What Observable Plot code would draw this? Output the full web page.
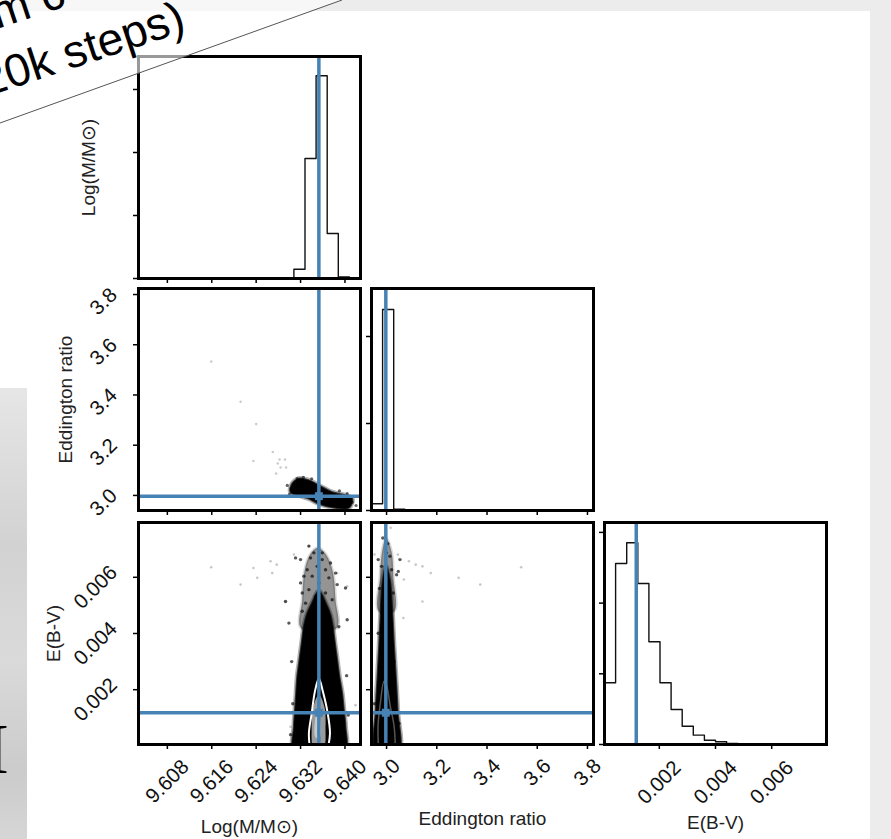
<!DOCTYPE html>
<html><head><meta charset="utf-8">
<script src="https://cdn.jsdelivr.net/npm/d3@7"></script>
<script src="https://cdn.jsdelivr.net/npm/@observablehq/plot@0.6"></script>
<style>
body{margin:0;background:#ececec}
#root{position:relative;width:891px;height:839px;overflow:hidden;background:#ececec}
#root > svg{position:absolute}
#white{position:absolute;left:0;top:11px;width:870px;height:828px;background:#fff}
#leftstrip{position:absolute;left:0;top:388px;width:27px;height:451px;background:linear-gradient(to bottom,#e6e6e6,#d2d2d2 35%,#dadada 60%,#cbcbcb 85%,#d6d6d6)}
[aria-label="x-axis tick"],[aria-label="y-axis tick"]{stroke-width:1.5px}
[aria-label="x-axis"] line,[aria-label="y-axis"] line{stroke-width:1.5px}
</style></head>
<body>
<div id="root"><div id="white"></div><div id="leftstrip"></div></div>
<script>
// ---------- data ----------
const labels = ["Log(M/M⊙)", "Eddington ratio", "E(B-V)"];
const logMTicks = [9.608, 9.616, 9.624, 9.632, 9.640];
const eddTicks = [3.0, 3.2, 3.4, 3.6, 3.8];
const ebvTicks = [0.002, 0.004, 0.006];
const truths = [9.6353, 2.997, 0.00118];
const logMDomain = [9.6028, 9.6428];
const eddDomain = [2.94, 3.824];
const ebvDomain = [0.00005, 0.00795];

const logMEdges = [9.6028, 9.6048, 9.6068, 9.6088, 9.6108, 9.6128, 9.6148, 9.6168, 9.6188, 9.6208, 9.6228,
  9.6248, 9.6268, 9.6288, 9.6308, 9.6328, 9.6348, 9.6368, 9.6388, 9.6408, 9.6428];
const logMCounts = [0, 0, 0, 0, 0, 0, 0, 0, 0, 0, 0, 0, 0, 0, 443, 5714, 9652, 2143, 79, 0];
const logMCountTicks = [0, 3000, 6000, 9000];
const logMCountMax = 10571;

const eddEdges = [2.94, 2.9842, 3.0284, 3.0726, 3.1168, 3.161, 3.2052, 3.2494, 3.2936, 3.3378, 3.382,
  3.4262, 3.4704, 3.5146, 3.5588, 3.603, 3.6472, 3.6914, 3.7356, 3.7798, 3.824];
const eddCounts = [770, 23100, 150, 0, 0, 0, 0, 0, 0, 0, 0, 0, 0, 0, 0, 0, 0, 0, 0, 0];
const eddCountTicks = [0, 10000, 20000];
const eddCountMax = 25517;

const ebvEdges = [0.00005, 0.000445, 0.00084, 0.001235, 0.00163, 0.002025, 0.00242, 0.002815, 0.00321,
  0.003605, 0.004, 0.004395, 0.00479, 0.005185, 0.00558, 0.005975, 0.00637, 0.006765, 0.00716, 0.007555, 0.00795];
const ebvCounts = [873, 2560, 2853, 2277, 1453, 873, 495, 259, 132, 61, 38, 14, 7, 5, 3, 0, 3, 3, 0, 0];
const ebvCountTicks = [0, 1000, 2000, 3000];
const ebvCountMax = 3140;

// Eddington ratio vs Log(M)
const eddVsLogMCloud = [[9.6305, 3.047], [9.6317, 3.067], [9.6335, 3.060], [9.6353, 3.040], [9.6377, 3.013],
  [9.6401, 3.000], [9.6413, 2.987], [9.6407, 2.951], [9.6377, 2.953], [9.6353, 2.967], [9.6335, 2.987],
  [9.6317, 3.000], [9.6302, 3.013]];
const eddVsLogMEdgeDots = [[9.6314, 3.067], [9.6320, 3.060], [9.6404, 3.007], [9.6413, 2.973], [9.6303, 3.027],
  [9.6308, 3.033], [9.6325, 3.072], [9.6296, 3.040], [9.6340, 3.066], [9.6390, 3.018], [9.6420, 2.960], [9.6300, 3.004]];
const eddVsLogMOutliers = [[9.6159, 3.533], [9.6212, 3.373], [9.6240, 3.284], [9.6270, 3.173], [9.6235, 3.137],
  [9.6282, 3.143], [9.6279, 3.127], [9.6292, 3.143], [9.6276, 3.087], [9.6294, 3.111], [9.6284, 3.111]];

// E(B-V) vs Log(M)
const ebvVsLogMCloud = [[9.6353, 0.00550], [9.6366, 0.00505], [9.6374, 0.00465], [9.6378, 0.00425], [9.6382, 0.00365],
  [9.6386, 0.00306], [9.6390, 0.00246], [9.6395, 0.00187], [9.6398, 0.00128], [9.6401, 0.00068], [9.6399, -0.0002],
  [9.6309, -0.0002], [9.6308, 0.00068], [9.6310, 0.00128], [9.6312, 0.00187], [9.6314, 0.00246], [9.6318, 0.00306],
  [9.6322, 0.00365], [9.6326, 0.00425], [9.6331, 0.00465], [9.6340, 0.00505]];
const ebvVsLogMHaze = [[9.6351, 0.00705], [9.6366, 0.00680], [9.6378, 0.00620], [9.6383, 0.00520], [9.6385, 0.00420],
  [9.6321, 0.00420], [9.6323, 0.00520], [9.6327, 0.00620], [9.6337, 0.00680]];
const ebvVsLogMContour = [[9.6337, -0.0001], [9.6335, 0.00044], [9.6340, 0.00115], [9.6346, 0.00195], [9.6353, 0.00240],
  [9.6360, 0.00195], [9.6369, 0.00115], [9.6373, 0.00044], [9.6369, -0.0001]];
const ebvVsLogMCore = [[9.6353, 0.00182], [9.6363, 0.00139], [9.6365, 0.00068], [9.6361, -0.0001], [9.6344, -0.0001],
  [9.6340, 0.00068], [9.6343, 0.00139]];
const ebvVsLogMCenter = [[9.6351, 0.00135], [9.6356, 0.00090], [9.6355, 0.00030], [9.6347, 0.00030], [9.6346, 0.00090]];
const ebvVsLogMSparse = [[9.6335, 0.00711], [9.6338, 0.00669], [9.6332, 0.00627], [9.6326, 0.00604], [9.6341, 0.00604],
  [9.6350, 0.00639], [9.6359, 0.00663], [9.6365, 0.00627], [9.6371, 0.00598], [9.6383, 0.00615], [9.6353, 0.00580],
  [9.6335, 0.00556], [9.6323, 0.00544], [9.6347, 0.00532], [9.6365, 0.00544], [9.6377, 0.00520], [9.6329, 0.00508],
  [9.6320, 0.00663], [9.6311, 0.00669], [9.6344, 0.00687], [9.6359, 0.00687], [9.6374, 0.00651], [9.6386, 0.00574],
  [9.6401, 0.00562], [9.6293, 0.00514], [9.6299, 0.00437], [9.6389, 0.00424], [9.6404, 0.00449], [9.6323, 0.00479],
  [9.6320, 0.00580], [9.6304, 0.00300], [9.6403, 0.00250], [9.6306, 0.00150], [9.6406, 0.00110], [9.6302, 0.00040]];
const ebvVsLogMOutliers = [[9.6159, 0.00636], [9.6212, 0.00574], [9.6235, 0.00633], [9.6242, 0.00598], [9.6266, 0.00657],
  [9.6277, 0.00645], [9.6269, 0.00615], [9.6292, 0.00514], [9.6308, 0.00681], [9.6335, 0.00711], [9.6386, 0.00615],
  [9.6404, 0.00568], [9.6419, 0.00145], [9.6302, 0.00068]];

// E(B-V) vs Eddington ratio
const ebvVsEddCloud = [[2.998, 0.00640], [3.014, 0.00585], [3.020, 0.00520], [3.024, 0.00460], [3.029, 0.00365],
  [3.037, 0.00246], [3.044, 0.00127], [3.047, -0.0002], [2.958, -0.0002], [2.957, 0.00127], [2.964, 0.00246],
  [2.971, 0.00365], [2.976, 0.00460], [2.980, 0.00540], [2.986, 0.00595]];
const ebvVsEddHaze = [[2.998, 0.00740], [3.020, 0.00690], [3.027, 0.00600], [3.031, 0.00480], [2.969, 0.00480],
  [2.974, 0.00600], [2.982, 0.00690]];
const ebvVsEddContour = [[2.968, -0.0001], [2.966, 0.00070], [2.975, 0.00150], [2.990, 0.00230], [3.000, 0.00215],
  [3.015, 0.00140], [3.030, 0.00070], [3.035, -0.0001]];
const ebvVsEddSparse = [[2.9667, 0.00663], [3.0133, 0.00675], [3.020, 0.00627], [3.040, 0.00609], [2.980, 0.00639],
  [3.0, 0.00687], [3.0533, 0.00663], [3.0467, 0.00621], [2.980, 0.00473], [3.0267, 0.00544], [2.9667, 0.00401],
  [2.985, 0.00740], [3.005, 0.00720], [2.972, 0.00560], [3.030, 0.00300], [3.050, 0.00080], [2.952, 0.00150]];
const ebvVsEddOutliers = [[2.952, 0.00681], [3.045, 0.00681], [3.089, 0.00657], [3.116, 0.00645], [3.143, 0.00639],
  [3.176, 0.00615], [3.287, 0.00598], [3.373, 0.00574], [3.536, 0.00636], [3.143, 0.00514], [3.067, 0.00455],
  [3.069, 0.00592], [3.016, 0.00776]];

// ---------- layout / helpers ----------
const FONT = "'Liberation Sans', Arial, Helvetica, sans-serif";
const BLUE = "#4682b4";
const W = 222, ML = 140, MR = 20, MT = 15, MB = 100;
const colLeft = [138, 371, 604], rowTop = [56, 288, 522];
const root = document.getElementById("root");
const fmt3 = d3.format(".3f"), fmt1 = d3.format(".1f");

function panel(col, row, o) {
  const svg = Plot.plot({
    width: W + ML + MR, height: W + MT + MB,
    marginLeft: ML, marginRight: MR, marginTop: MT, marginBottom: MB,
    style: {background: "transparent", overflow: "visible"},
    x: {domain: o.xDomain, ticks: o.xTicks, tickSize: 5, tickFormat: () => "", label: null},
    y: {domain: o.yDomain, ticks: o.yTicks, tickSize: 5, tickFormat: () => "", label: null},
    marks: [...o.marks, Plot.frame({stroke: "black", strokeWidth: 3})]
  });
  svg.style.left = (colLeft[col] - ML) + "px";
  svg.style.top = (rowTop[row] - MT) + "px";
  svg.style.background = "transparent";
  root.appendChild(svg);
}
const steps = (edges, counts) => [{x: edges[0], y: 0}, ...counts.map((c, i) => ({x: edges[i], y: c})),
  {x: edges[counts.length], y: counts[counts.length - 1]}, {x: edges[counts.length], y: 0}];
const hist = (edges, counts) => Plot.line(steps(edges, counts), {x: "x", y: "y", curve: "step-after", stroke: "#111", strokeWidth: 1.4});
const TICKFS = 20.5;
const xLabels = (ticks, f, dy) => Plot.text(ticks, {x: d => d, text: f, frameAnchor: "bottom", dy, rotate: -45,
  textAnchor: "middle", lineAnchor: "middle", fontSize: TICKFS, fontFamily: FONT, fill: "#111"});
const yLabels = (ticks, f, dx, dy) => Plot.text(ticks, {y: d => d, text: f, frameAnchor: "left", dx, dy, rotate: -45,
  textAnchor: "middle", lineAnchor: "middle", fontSize: TICKFS, fontFamily: FONT, fill: "#111"});
const xTitle = (t, dy) => Plot.text([t], {text: d => d, frameAnchor: "bottom", dy, textAnchor: "middle", lineAnchor: "middle",
  fontSize: 19, fontFamily: FONT, fill: "#222"});
const yTitle = (t, dx) => Plot.text([t], {text: d => d, frameAnchor: "left", dx, rotate: -90, textAnchor: "middle", lineAnchor: "middle",
  fontSize: 19, fontFamily: FONT, fill: "#222"});
const poly = (pts, o) => Plot.line(pts, {x: d => d[0], y: d => d[1], curve: "catmull-rom-closed", clip: true, ...o});
const cloud = (pts) => [
  poly(pts, {fill: "none", stroke: "#000", strokeWidth: 5, strokeOpacity: 0.3}),
  poly(pts, {fill: "#000", stroke: "#000", strokeWidth: 2, strokeOpacity: 0.7})
];
const dots = (pts, r, op) => Plot.dot(pts, {x: d => d[0], y: d => d[1], r, fill: "#000", fillOpacity: op, stroke: "none", clip: true});
const cross = (x, y) => [
  Plot.ruleX([x], {stroke: BLUE, strokeWidth: 3.5}),
  Plot.ruleY([y], {stroke: BLUE, strokeWidth: 3.5}),
  Plot.dot([[x, y]], {x: d => d[0], y: d => d[1], symbol: "square", r: 4.5, fill: BLUE, stroke: "none"})
];

// ---------- row 0 ----------
panel(0, 0, {
  xDomain: logMDomain, yDomain: [0, logMCountMax], xTicks: logMTicks, yTicks: logMCountTicks,
  marks: [hist(logMEdges, logMCounts), Plot.ruleX([truths[0]], {stroke: BLUE, strokeWidth: 3.5}),
    yTitle(labels[0], -50)]
});
// ---------- row 1 ----------
panel(0, 1, {
  xDomain: logMDomain, yDomain: eddDomain, xTicks: logMTicks, yTicks: eddTicks,
  marks: [dots(eddVsLogMOutliers, 1.3, 0.2), dots(eddVsLogMEdgeDots, 1.6, 0.6), ...cloud(eddVsLogMCloud),
    ...cross(truths[0], truths[1]), yLabels(eddTicks, fmt1, -35, 7), yTitle(labels[1], -73)]
});
panel(1, 1, {
  xDomain: eddDomain, yDomain: [0, eddCountMax], xTicks: eddTicks, yTicks: eddCountTicks,
  marks: [hist(eddEdges, eddCounts), Plot.ruleX([truths[1]], {stroke: BLUE, strokeWidth: 3.5})]
});
// ---------- row 2 ----------
panel(0, 2, {
  xDomain: logMDomain, yDomain: ebvDomain, xTicks: logMTicks, yTicks: ebvTicks,
  marks: [dots(ebvVsLogMOutliers, 1.3, 0.22),
    poly(ebvVsLogMHaze, {fill: "#000", fillOpacity: 0.42, stroke: "#000", strokeOpacity: 0.15, strokeWidth: 3}),
    dots(ebvVsLogMSparse, 1.7, 0.65), ...cloud(ebvVsLogMCloud),
    poly(ebvVsLogMCore, {fill: "#9a9a9a", stroke: "none"}),
    poly(ebvVsLogMCenter, {fill: "#c9c9c9", stroke: "none"}),
    Plot.line(ebvVsLogMContour, {x: d => d[0], y: d => d[1], curve: "catmull-rom", stroke: "#fff", strokeWidth: 2, clip: true}),
    ...cross(truths[0], truths[2]),
    xLabels(logMTicks, fmt3, 37), yLabels(ebvTicks, fmt3, -43, 10),
    xTitle(labels[0], 82), yTitle(labels[2], -85)]
});
panel(1, 2, {
  xDomain: eddDomain, yDomain: ebvDomain, xTicks: eddTicks, yTicks: ebvTicks,
  marks: [dots(ebvVsEddOutliers, 1.3, 0.22),
    poly(ebvVsEddHaze, {fill: "#000", fillOpacity: 0.42, stroke: "#000", strokeOpacity: 0.15, strokeWidth: 3}),
    dots(ebvVsEddSparse, 1.7, 0.65), ...cloud(ebvVsEddCloud),
    Plot.line(ebvVsEddContour, {x: d => d[0], y: d => d[1], curve: "catmull-rom", stroke: "#555", strokeWidth: 1.5, clip: true}),
    ...cross(truths[1], truths[2]),
    xLabels(eddTicks, fmt1, 28), xTitle(labels[1], 74)]
});
panel(2, 2, {
  xDomain: ebvDomain, yDomain: [0, ebvCountMax], xTicks: ebvTicks, yTicks: ebvCountTicks,
  marks: [hist(ebvEdges, ebvCounts), Plot.ruleX([truths[2]], {stroke: BLUE, strokeWidth: 3.5}),
    xLabels(ebvTicks, fmt3, 38), xTitle(labels[2], 78)]
});

// ---------- slide decoration ----------
const NS = "http://www.w3.org/2000/svg";
const deco = document.createElementNS(NS, "svg");
deco.setAttribute("width", 891); deco.setAttribute("height", 839);
deco.style.cssText = "position:absolute;left:0;top:0;pointer-events:none";
deco.innerHTML = `
  <polygon points="0,0 342,0 0,123" fill="rgba(255,255,255,0.6)"/>
  <line x1="0" y1="123" x2="342" y2="0" stroke="#555" stroke-width="1"/>
  <text x="-3" y="29" transform="rotate(-18.3 -3 29)" font-family="Liberation Sans, Arial" font-size="46" fill="#000">m c</text>
  <text x="-14" y="97" transform="rotate(-18.3 -14 97)" font-family="Liberation Sans, Arial" font-size="46" fill="#000">20k steps)</text>
  <text x="-15" y="773" font-family="Liberation Serif, Times New Roman, serif" font-size="72" fill="#000">I</text>`;
root.appendChild(deco);
</script>
</body></html>
